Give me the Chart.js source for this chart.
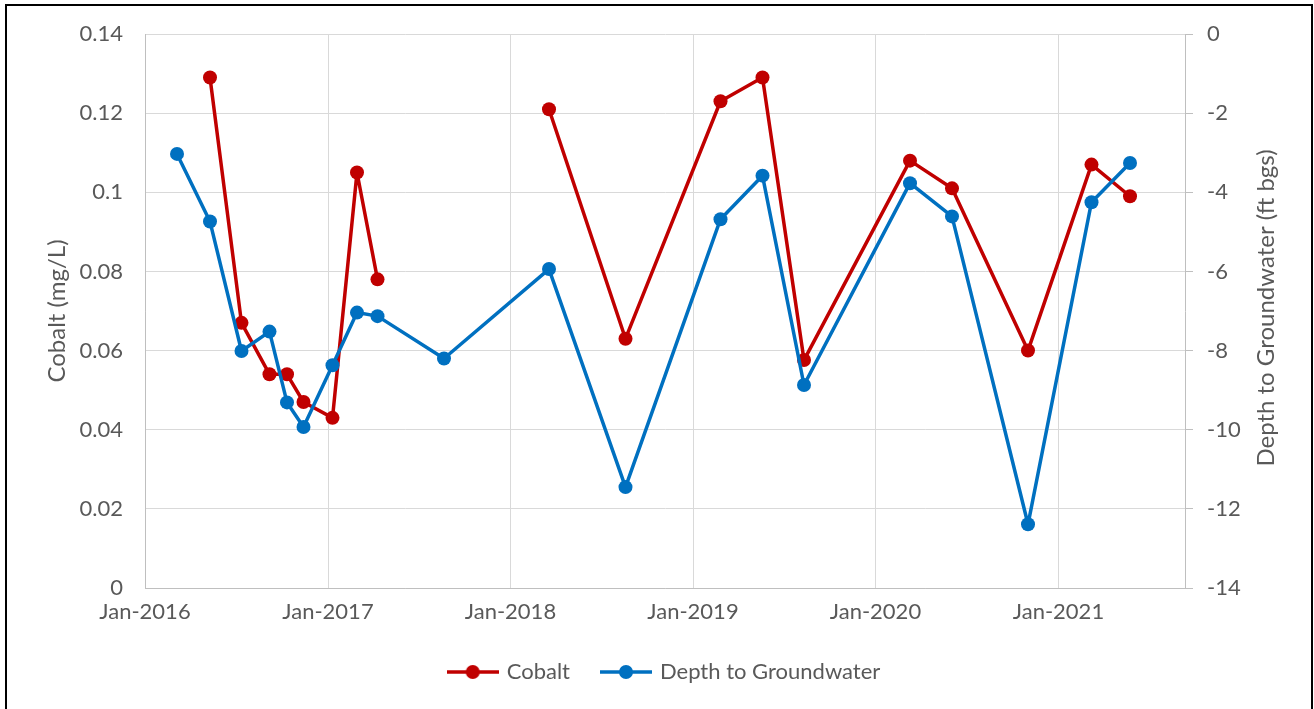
<!DOCTYPE html>
<html>
<head>
<meta charset="utf-8">
<script src="https://cdn.jsdelivr.net/npm/chart.js@4.4.1/dist/chart.umd.min.js"></script>
<style>
  html, body { margin: 0; padding: 0; background: #ffffff; }
  body { width: 1314px; height: 709px; position: relative; overflow: hidden; }
  #frame {
    position: absolute; left: 5px; top: 4px; width: 1308px; height: 740px;
    border: 2px solid #000000; box-sizing: border-box;
  }
  #wrap { position: absolute; left: 0; top: 0; width: 1314px; height: 709px; }
</style>
</head>
<body>
<div id="frame"></div>
<div id="wrap"><canvas id="chart" width="1314" height="709"></canvas></div>
<script>
// Sampling dates (shared by both series)
const sampleDates = [
  '2016-03-05', '2016-05-10', '2016-07-12', '2016-09-06', '2016-10-11',
  '2016-11-13', '2017-01-10', '2017-02-28', '2017-04-10', '2017-08-21',
  '2018-03-19', '2018-08-19', '2019-02-25', '2019-05-20', '2019-08-11',
  '2020-03-10', '2020-06-02', '2020-11-01', '2021-03-08', '2021-05-24'
];

// Cobalt concentration, mg/L (null = not sampled)
const cobalt = [
  null, 0.129, 0.067, 0.054, 0.054,
  0.047, 0.043, 0.105, 0.078, null,
  0.121, 0.063, 0.123, 0.129, 0.0576,
  0.108, 0.101, 0.060, 0.107, 0.099
];

// Depth to groundwater, ft below ground surface
const depthToGroundwater = [
  -3.03, -4.74, -8.01, -7.52, -9.31,
  -9.93, -8.37, -7.04, -7.13, -8.20,
  -5.94, -11.45, -4.68, -3.58, -8.87,
  -3.77, -4.61, -12.39, -4.25, -3.26
];

// Year ticks along the time axis
const xTickYears = [2016, 2017, 2018, 2019, 2020, 2021];
const xTickLabels = ['Jan-2016', 'Jan-2017', 'Jan-2018', 'Jan-2019', 'Jan-2020', 'Jan-2021'];

const RED = '#C00000';
const BLUE = '#0070C0';
const TEXT = '#595959';
const GRID = '#D9D9D9';
const AXIS = '#BFBFBF';
const FONT = 'Lato';
const FS = 22;        // tick labels and legend
const FS_TITLE = 24;  // axis titles

const xMin = Date.UTC(2016, 0, 1);
const xMax = Date.UTC(2021, 8, 11);

function toPoints(values) {
  return sampleDates.map((d, i) => ({ x: Date.parse(d), y: values[i] }));
}

// Legend swatch: short line with a round marker in the middle
function swatch(color) {
  const c = document.createElement('canvas');
  c.width = 52; c.height = 16;
  const g = c.getContext('2d');
  g.strokeStyle = color; g.lineWidth = 3.5;
  g.beginPath(); g.moveTo(0, 8); g.lineTo(52, 8); g.stroke();
  g.fillStyle = color;
  g.beginPath(); g.arc(26, 8, 7, 0, Math.PI * 2); g.fill();
  return c;
}
const swatches = [swatch(RED), swatch(BLUE)];

function noPad(scale) {
  scale.paddingTop = 0; scale.paddingBottom = 0;
  scale.paddingLeft = 0; scale.paddingRight = 0;
}

// Secondary axis title, read bottom-to-top like the primary one
const rightTitle = {
  id: 'rightTitle',
  afterDraw(chart) {
    const { ctx, chartArea } = chart;
    ctx.save();
    ctx.translate(1266, (chartArea.top + chartArea.bottom) / 2 - 3);
    ctx.rotate(-Math.PI / 2);
    ctx.font = FS_TITLE + 'px ' + FONT;
    ctx.fillStyle = TEXT;
    ctx.textAlign = 'center';
    ctx.textBaseline = 'middle';
    ctx.fillText('Depth to Groundwater (ft bgs)', 0, 0);
    ctx.restore();
  }
};

// Nudge the legend block slightly right of the canvas centre
const legendShift = {
  id: 'legendShift',
  afterLayout(chart) {
    if (chart.legend) {
      chart.legend.left += 8;
      chart.legend.right += 8;
    }
  }
};

new Chart(document.getElementById('chart'), {
  type: 'line',
  plugins: [rightTitle, legendShift],
  data: {
    datasets: [
      {
        label: 'Cobalt',
        data: toPoints(cobalt),
        yAxisID: 'y',
        borderColor: RED,
        backgroundColor: RED,
        pointBackgroundColor: RED,
        pointBorderColor: RED,
        borderWidth: 3.5,
        borderJoinStyle: 'round',
        pointRadius: 7,
        pointBorderWidth: 0,
        tension: 0,
        spanGaps: false,
        order: 1
      },
      {
        label: 'Depth to Groundwater',
        data: toPoints(depthToGroundwater),
        yAxisID: 'y1',
        borderColor: BLUE,
        backgroundColor: BLUE,
        pointBackgroundColor: BLUE,
        pointBorderColor: BLUE,
        borderWidth: 3.5,
        borderJoinStyle: 'round',
        pointRadius: 7,
        pointBorderWidth: 0,
        tension: 0,
        spanGaps: false,
        order: 0
      }
    ]
  },
  options: {
    responsive: false,
    animation: false,
    devicePixelRatio: 1,
    layout: { padding: { top: 34, bottom: 16, left: 0, right: 0 } },
    font: { family: FONT, size: FS },
    plugins: {
      tooltip: { enabled: false },
      legend: {
        position: 'bottom',
        labels: {
          usePointStyle: true,
          pointStyleWidth: 46,
          padding: 33,
          color: TEXT,
          font: { family: FONT, size: FS },
          sort: (a, b) => a.datasetIndex - b.datasetIndex,
          generateLabels: (chart) => {
            const items = Chart.defaults.plugins.legend.labels.generateLabels(chart);
            items.forEach(it => { it.pointStyle = swatches[it.datasetIndex]; });
            return items;
          }
        }
      }
    },
    scales: {
      x: {
        type: 'linear',
        min: xMin,
        max: xMax,
        afterBuildTicks: (s) => { s.ticks = xTickYears.map(y => ({ value: Date.UTC(y, 0, 1) })); },
        afterFit: (s) => { s.height = 40; noPad(s); },
        ticks: {
          color: TEXT,
          font: { family: FONT, size: FS },
          padding: 11,
          maxRotation: 0,
          autoSkip: false,
          callback: (v, i) => xTickLabels[i]
        },
        grid: { color: GRID, lineWidth: 1, drawTicks: false },
        border: { color: AXIS, width: 1 }
      },
      y: {
        position: 'left',
        min: 0,
        max: 0.14,
        afterFit: (s) => { s.width = 145; noPad(s); },
        ticks: {
          stepSize: 0.02,
          color: TEXT,
          font: { family: FONT, size: FS },
          padding: 22,
          callback: (v) => String(parseFloat(v.toFixed(2)))
        },
        grid: { color: GRID, lineWidth: 1, drawTicks: false },
        border: { color: AXIS, width: 1 },
        title: {
          display: true,
          text: 'Cobalt (mg/L)',
          color: TEXT,
          font: { family: FONT, size: FS_TITLE },
          padding: { top: 43, bottom: 0 }
        }
      },
      y1: {
        position: 'right',
        min: -14,
        max: 0,
        afterFit: (s) => { s.width = 129; noPad(s); },
        ticks: {
          stepSize: 2,
          color: TEXT,
          font: { family: FONT, size: FS },
          padding: 14
        },
        grid: { drawOnChartArea: false, color: AXIS, tickLength: 8, drawTicks: true },
        border: { color: AXIS, width: 1 },
        title: { display: false }
      }
    }
  }
});
</script>
</body>
</html>
